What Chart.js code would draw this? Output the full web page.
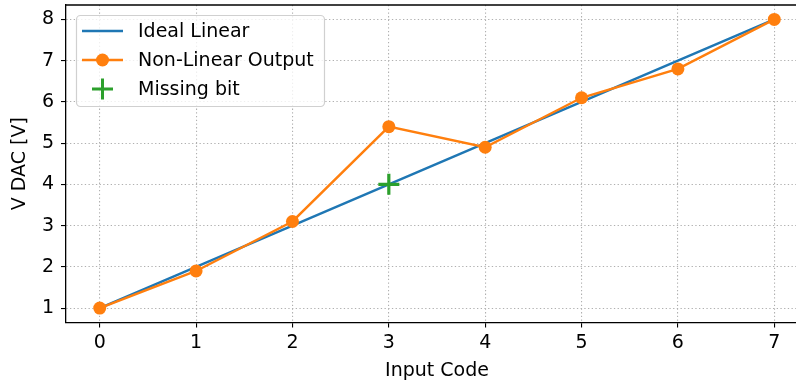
<!DOCTYPE html>
<html>
<head>
<meta charset="utf-8">
<script src="https://cdn.jsdelivr.net/npm/chart.js@4"></script>
<style>
  html, body { margin: 0; padding: 0; background: #fff; overflow: hidden; }
  #wrap { width: 796px; height: 388px; overflow: hidden; }
  #dac { width: 808px; height: 388px; }
</style>
</head>
<body>
<div id="wrap"><canvas id="dac" width="808" height="388"></canvas></div>
<script>
const codes = [0, 1, 2, 3, 4, 5, 6, 7];
const idealLinear = [1, 2, 3, 4, 5, 6, 7, 8];
const nonLinear = [1.0, 1.9, 3.1, 5.4, 4.9, 6.1, 6.8, 8.0];
const missingCode = [3];
const missingValue = [4];
const xTicks = [0, 1, 2, 3, 4, 5, 6, 7];
const yTicks = [1, 2, 3, 4, 5, 6, 7, 8];

const FONT = "'DejaVu Sans', sans-serif";
const FS = 19;
const BLUE = '#1f77b4', ORANGE = '#ff7f0e', GREEN = '#2ca02c';

const toPts = (xs, ys) => xs.map((x, i) => ({ x, y: ys[i] }));

// top spine (right one falls outside the window) + legend box like matplotlib
const frameAndLegend = {
  id: 'frameAndLegend',
  afterDatasetsDraw(chart) {
    const { ctx, chartArea: a } = chart;
    ctx.save();
    ctx.strokeStyle = '#000';
    ctx.lineWidth = 1.3;
    ctx.beginPath();
    ctx.moveTo(a.left, a.top);
    ctx.lineTo(a.right, a.top);
    ctx.stroke();

    // legend
    const bx = 76, by = 15, bw = 248, bh = 91, r = 4;
    ctx.beginPath();
    ctx.roundRect(bx + 0.5, by + 0.5, bw, bh, r);
    ctx.fillStyle = 'rgba(255,255,255,0.8)';
    ctx.fill();
    ctx.strokeStyle = '#d0d0d0';
    ctx.lineWidth = 1.2;
    ctx.stroke();

    const rows = [31, 60, 89];
    ctx.font = FS + 'px ' + FONT;
    ctx.textBaseline = 'middle';
    const labels = chart.data.datasets.map(d => d.label);

    ctx.lineWidth = 2.4;
    ctx.strokeStyle = BLUE;
    ctx.beginPath(); ctx.moveTo(82, rows[0]); ctx.lineTo(123, rows[0]); ctx.stroke();

    ctx.strokeStyle = ORANGE;
    ctx.beginPath(); ctx.moveTo(82, rows[1]); ctx.lineTo(123, rows[1]); ctx.stroke();
    ctx.fillStyle = ORANGE;
    ctx.beginPath(); ctx.arc(102.5, rows[1], 6.5, 0, Math.PI * 2); ctx.fill();

    ctx.strokeStyle = GREEN;
    ctx.lineWidth = 3;
    ctx.beginPath();
    ctx.moveTo(92, rows[2]); ctx.lineTo(113, rows[2]);
    ctx.moveTo(102.5, rows[2] - 10.5); ctx.lineTo(102.5, rows[2] + 10.5);
    ctx.stroke();

    ctx.fillStyle = '#000';
    labels.forEach((t, i) => ctx.fillText(t, 138, rows[i] + 1));
    ctx.restore();
  }
};

new Chart(document.getElementById('dac'), {
  type: 'scatter',
  data: {
    datasets: [
      {
        label: 'Ideal Linear',
        data: toPts(codes, idealLinear),
        showLine: true,
        borderColor: BLUE,
        backgroundColor: BLUE,
        borderWidth: 2.4,
        pointRadius: 0,
        order: 3
      },
      {
        label: 'Non-Linear Output',
        data: toPts(codes, nonLinear),
        showLine: true,
        borderColor: ORANGE,
        backgroundColor: ORANGE,
        borderWidth: 2.4,
        pointRadius: 6.5,
        pointBorderWidth: 0,
        order: 2
      },
      {
        label: 'Missing bit',
        data: toPts(missingCode, missingValue),
        showLine: false,
        pointStyle: 'cross',
        pointRadius: 10.5,
        borderColor: GREEN,
        backgroundColor: GREEN,
        pointBorderWidth: 3.2,
        order: 1
      }
    ]
  },
  options: {
    responsive: false,
    animation: false,
    layout: { autoPadding: false, padding: { top: 5, right: 0, left: 0, bottom: 0 } },
    plugins: { legend: { display: false }, tooltip: { enabled: false } },
    scales: {
      x: {
        type: 'linear',
        min: -0.35, max: 7.35,
        afterBuildTicks: s => { s.ticks = xTicks.map(v => ({ value: v })); },
        afterFit: s => { s.height = 65.5; s.paddingLeft = 0; s.paddingRight = 0; },
        ticks: { color: '#000', font: { family: FONT, size: FS }, padding: 4 },
        grid: { color: '#b0b0b0', lineWidth: 1.1, tickColor: '#000', tickLength: 5, tickWidth: 1.1, tickBorderDash: [] },
        border: { display: true, color: '#000', width: 1.3, dash: [1.3, 2.4] },
        title: { display: true, text: 'Input Code', color: '#000', font: { family: FONT, size: FS }, padding: { top: 2, bottom: 6 } }
      },
      y: {
        type: 'linear',
        min: 0.65, max: 8.35,
        afterBuildTicks: s => { s.ticks = yTicks.map(v => ({ value: v })); },
        afterFit: s => { s.width = 66; s.paddingTop = 0; s.paddingBottom = 0; },
        ticks: { color: '#000', font: { family: FONT, size: FS }, padding: 7 },
        grid: { color: '#b0b0b0', lineWidth: 1.1, tickColor: '#000', tickLength: 5, tickWidth: 1.1, tickBorderDash: [] },
        border: { display: true, color: '#000', width: 1.3, dash: [1.3, 2.4] },
        title: { display: true, text: 'V DAC [V]', color: '#000', font: { family: FONT, size: FS }, padding: { top: 8.5, bottom: 2 } }
      }
    }
  },
  plugins: [frameAndLegend]
});
</script>
</body>
</html>
